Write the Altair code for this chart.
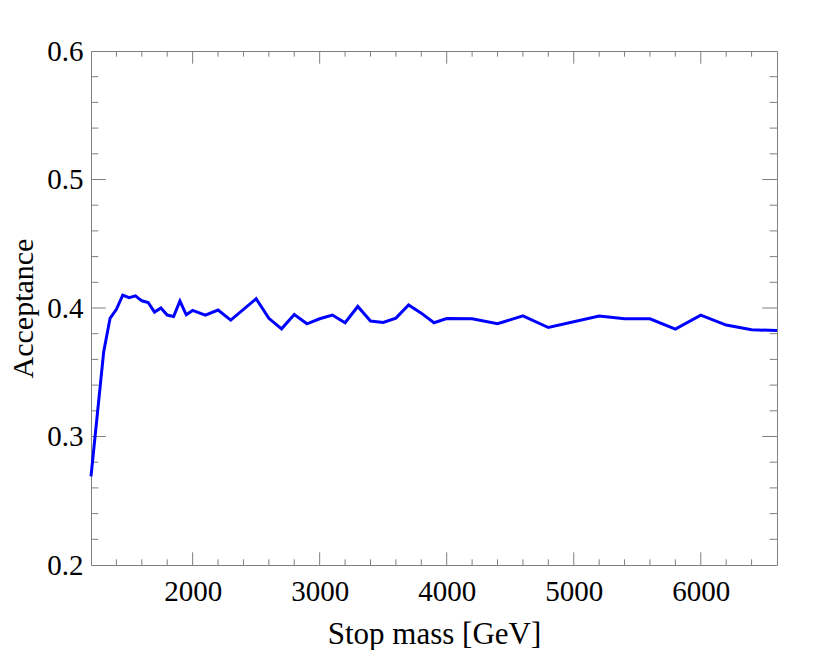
import altair as alt
import pandas as pd

# ---- data ----
mass = [1200, 1300, 1350, 1400, 1450, 1500, 1550, 1600, 1650, 1700, 1750, 1800,
        1850, 1900, 1950, 2000, 2100, 2200, 2300, 2500, 2600, 2700, 2800, 2900,
        3000, 3100, 3200, 3300, 3400, 3500, 3600, 3700, 3800, 3900, 4000, 4200,
        4400, 4600, 4800, 5200, 5400, 5600, 5800, 6000, 6200, 6400, 6600]
acceptance = [0.269, 0.366, 0.392, 0.399, 0.410, 0.408, 0.4095, 0.4056, 0.4043, 0.3968,
              0.400, 0.3945, 0.3934, 0.4054, 0.3947, 0.3981, 0.3945, 0.3984, 0.3906,
              0.4072, 0.3920, 0.3838, 0.3950, 0.3877, 0.3916, 0.3945, 0.3885, 0.4012,
              0.3898, 0.3887, 0.3921, 0.4023, 0.3960, 0.3885, 0.3918, 0.3916, 0.3877,
              0.3939, 0.3848, 0.3937, 0.3916, 0.3916, 0.3836, 0.3945, 0.3867, 0.3830,
              0.3825]

x_labels = [2000, 3000, 4000, 5000, 6000]
x_minor = [1400, 1600, 1800, 2200, 2400, 2600, 2800, 3200, 3400, 3600, 3800,
           4200, 4400, 4600, 4800, 5200, 5400, 5600, 5800, 6200, 6400]
y_labels = [0.2, 0.3, 0.4, 0.5, 0.6]
y_minor = [0.22, 0.24, 0.26, 0.28, 0.32, 0.34, 0.36, 0.38, 0.42, 0.44, 0.46,
           0.48, 0.52, 0.54, 0.56, 0.58]

# ---- styling ----
W, H = 686, 514
FONT = "Liberation Serif"
FRAME = "#808080"
X_MAJ, X_MIN = 12.7, 5.7
Y_MAJ, Y_MIN = 14.7, 7.3

xscale = alt.Scale(domain=[1200, 6600], nice=False, zero=False)
yscale = alt.Scale(domain=[0.2, 0.6], nice=False, zero=False)

x_axis = alt.Axis(values=x_labels, format="d", ticks=False, domain=False, grid=False,
                  labelFont=FONT, labelFontSize=29, labelColor="black", labelPadding=12,
                  labelFlush=False, labelOverlap=False,
                  title="Stop mass [GeV]", titleFont=FONT, titleFontSize=31,
                  titleFontWeight="normal", titleColor="black", titlePadding=13)
y_axis = alt.Axis(values=y_labels, format=".1f", ticks=False, domain=False, grid=False,
                  labelFont=FONT, labelFontSize=29, labelColor="black", labelPadding=8,
                  labelFlush=False, labelOverlap=False,
                  title="Acceptance", titleFont=FONT, titleFontSize=30,
                  titleFontWeight="normal", titleColor="black", titlePadding=8)


def x_ticks(vals, length):
    df = pd.DataFrame({"xv": vals})
    base = alt.Chart(df).mark_rule(color=FRAME, strokeWidth=1)
    bottom = base.encode(x=alt.X("xv:Q", scale=xscale, axis=x_axis),
                         y=alt.value(H), y2=alt.value(H - length))
    top = base.encode(x=alt.X("xv:Q", scale=xscale, axis=x_axis),
                      y=alt.value(0), y2=alt.value(length))
    return [bottom, top]


def y_ticks(vals, length):
    df = pd.DataFrame({"yv": vals})
    base = alt.Chart(df).mark_rule(color=FRAME, strokeWidth=1)
    left = base.encode(y=alt.Y("yv:Q", scale=yscale, axis=y_axis),
                       x=alt.value(0), x2=alt.value(length))
    right = base.encode(y=alt.Y("yv:Q", scale=yscale, axis=y_axis),
                        x=alt.value(W), x2=alt.value(W - length))
    return [left, right]


x_major_inner = [v for v in x_labels if 1200 < v < 6600]
y_major_inner = [v for v in y_labels if 0.2 < v < 0.6]

layers = []
layers += x_ticks(x_major_inner, X_MAJ)
layers += x_ticks(x_minor, X_MIN)
layers += y_ticks(y_major_inner, Y_MAJ)
layers += y_ticks(y_minor, Y_MIN)

line_df = pd.DataFrame({"mass": mass, "acc": acceptance})
line = alt.Chart(line_df).mark_line(color="#0000ff", strokeWidth=3).encode(
    x=alt.X("mass:Q", scale=xscale, axis=x_axis),
    y=alt.Y("acc:Q", scale=yscale, axis=y_axis),
)
layers.append(line)

chart = alt.layer(*layers).properties(
    width=W, height=H,
    padding={"left": 83, "top": 43, "right": 30, "bottom": 85},
    autosize=alt.AutoSizeParams(type="none"),
).configure_view(stroke=FRAME, strokeWidth=1)

chart.save("out.html", embed_options={"renderer": "svg", "actions": False})
